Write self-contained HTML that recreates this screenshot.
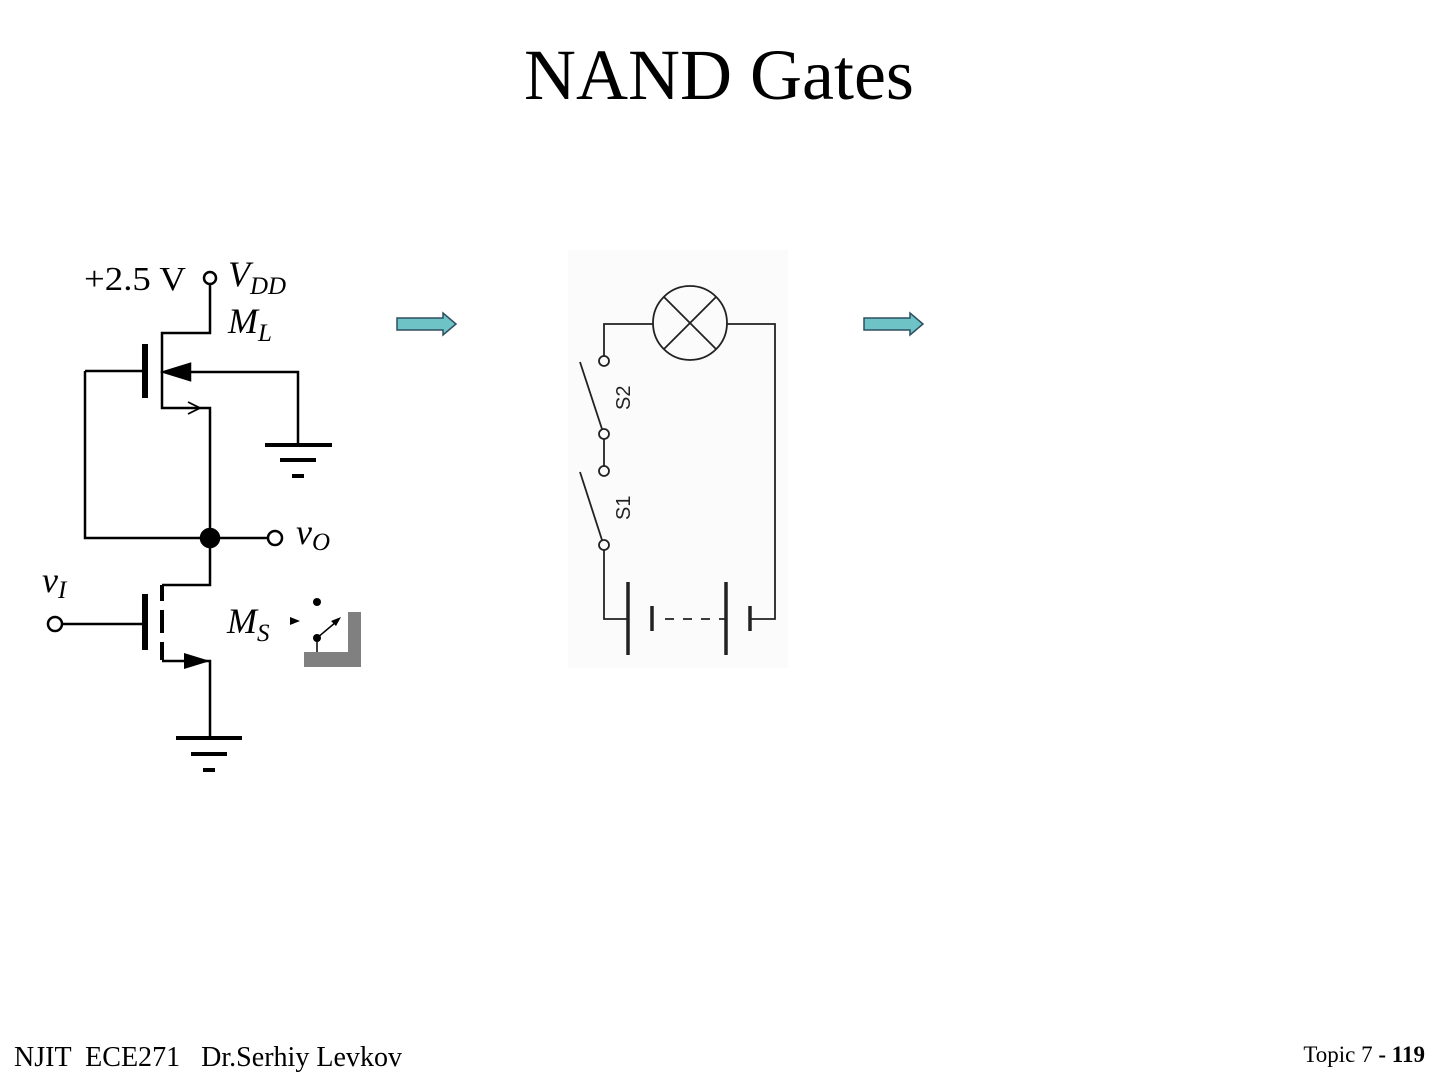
<!DOCTYPE html>
<html><head><meta charset="utf-8"><style>
body{margin:0;background:#fff;width:1440px;height:1080px;overflow:hidden}
svg{display:block}
</style></head><body>
<svg width="1440" height="1080" viewBox="0 0 1440 1080" xmlns="http://www.w3.org/2000/svg" font-family="Liberation Serif, serif">
<text x="719" y="99" font-size="72" text-anchor="middle">NAND Gates</text>

<g stroke="#000" stroke-width="2.5" fill="none">
<text x="84" y="290" font-size="34" fill="#000" stroke="none" textLength="102" lengthAdjust="spacingAndGlyphs">+2.5 V</text>
<circle cx="210" cy="278" r="6"/>
<polyline points="210,284 210,333 162,333 162,408 210,408 210,585 162,585"/>
<line x1="145" y1="344" x2="145" y2="398" stroke-width="6"/>
<polyline points="85,371 145,371"/>
<polyline points="85,371 85,538 210,538"/>
<polyline points="298,445 298,372 172,372"/>
<polygon points="164,372 190,364 190,380" fill="#000"/>
<polyline points="188,402 200,408 188,414" stroke-width="1.8"/>
<line x1="265" y1="445" x2="332" y2="445" stroke-width="4"/>
<line x1="280" y1="460" x2="316" y2="460" stroke-width="4"/>
<line x1="292" y1="476" x2="304" y2="476" stroke-width="4"/>
<line x1="210" y1="538" x2="268" y2="538"/>
<circle cx="210" cy="538" r="9" fill="#000"/>
<circle cx="275" cy="538" r="7"/>
<line x1="162" y1="585" x2="162" y2="601" stroke-width="4"/>
<line x1="162" y1="610" x2="162" y2="633" stroke-width="4"/>
<line x1="162" y1="642" x2="162" y2="660" stroke-width="4"/>
<line x1="145" y1="594" x2="145" y2="650" stroke-width="6"/>
<circle cx="55" cy="624" r="7"/>
<line x1="62" y1="624" x2="145" y2="624"/>
<polyline points="162,661 210,661 210,738"/>
<polygon points="210,661 184,653 184,669" fill="#000" stroke="none"/>
<line x1="176" y1="738" x2="242" y2="738" stroke-width="4"/>
<line x1="191" y1="754" x2="227" y2="754" stroke-width="4"/>
<line x1="203" y1="770" x2="215" y2="770" stroke-width="4"/>
</g>
<g font-style="italic" font-size="36" fill="#000">
<text x="228" y="286">V<tspan font-size="25" dy="8">DD</tspan></text>
<text x="228" y="333">M<tspan font-size="25" dy="8">L</tspan></text>
<text x="296" y="544">v<tspan font-size="25" dy="6">O</tspan></text>
<text x="42" y="592">v<tspan font-size="25" dy="6">I</tspan></text>
<text x="227" y="633">M<tspan font-size="25" dy="8">S</tspan></text>
</g>
<rect x="348" y="612" width="13" height="55" fill="#808080"/>
<rect x="304" y="652" width="57" height="15" fill="#808080"/>
<circle cx="317" cy="602" r="4" fill="#000"/>
<circle cx="317" cy="638" r="4" fill="#000"/>
<line x1="317" y1="638" x2="317" y2="652" stroke="#000" stroke-width="1.5"/>
<line x1="317" y1="638" x2="336" y2="622" stroke="#000" stroke-width="1.5"/>
<polygon points="341,617 331,621 336,626" fill="#000"/>
<polygon points="300,621 290,617 290,625" fill="#000"/>

<polygon points="397,318 443,318 443,313 456,324 443,335 443,330 397,330" fill="#6ec3c7" stroke="#2f4f5f" stroke-width="1.5"/>
<polygon points="864,318 910,318 910,313 923,324 910,335 910,330 864,330" fill="#6ec3c7" stroke="#2f4f5f" stroke-width="1.5"/>

<rect x="568" y="250" width="220" height="418" fill="#fbfbfb"/>
<g stroke="#222" stroke-width="1.8" fill="none">
<circle cx="690" cy="323" r="37"/>
<line x1="664" y1="297" x2="716" y2="349"/>
<line x1="716" y1="297" x2="664" y2="349"/>
<polyline points="653,324 604,324 604,356"/>
<polyline points="727,324 775,324 775,619 750,619"/>
<circle cx="604" cy="361" r="5"/>
<line x1="580" y1="362" x2="602" y2="429"/>
<circle cx="604" cy="434" r="5"/>
<line x1="604" y1="439" x2="604" y2="466"/>
<circle cx="604" cy="471" r="5"/>
<line x1="580" y1="472" x2="602" y2="540"/>
<circle cx="604" cy="545" r="5"/>
<polyline points="604,550 604,619 628,619"/>
<line x1="628" y1="582" x2="628" y2="655" stroke-width="3.5"/>
<line x1="726" y1="582" x2="726" y2="655" stroke-width="3.5"/>
<line x1="652" y1="606" x2="652" y2="631" stroke-width="3.5"/>
<line x1="750" y1="606" x2="750" y2="631" stroke-width="3.5"/>
<line x1="665" y1="619" x2="726" y2="619" stroke-dasharray="9,9"/>
</g>
<g font-family="Liberation Sans, sans-serif" font-size="20" fill="#222">
<text transform="translate(630,410) rotate(-90)">S2</text>
<text transform="translate(630,520) rotate(-90)">S1</text>
</g>

<text x="14" y="1066" font-size="28" xml:space="preserve" textLength="388" lengthAdjust="spacingAndGlyphs">NJIT  ECE271   Dr.Serhiy Levkov</text>
<text x="1425" y="1062" font-size="23" text-anchor="end">Topic 7 <tspan font-weight="bold">- 119</tspan></text>
</svg>
</body></html>
